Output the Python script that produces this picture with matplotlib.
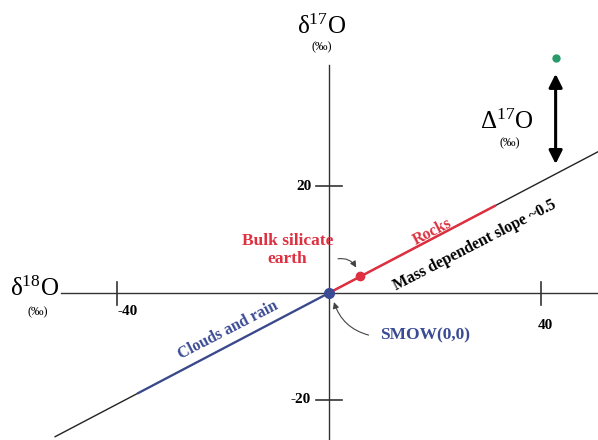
import numpy as np
import matplotlib.pyplot as plt

plt.rcParams['font.family'] = ['Liberation Serif', 'DejaVu Serif']

# mass dependent fractionation line and the reservoirs on it
slope = 0.52
line_x = [-51.7, 51.0]
clouds_x = [-36.0, 0.0]
rocks_x = [0.0, 31.3]
bse = (5.8, 3.1)
smow = (0.0, 0.0)
anomaly = (42.8, 43.9)
anomaly_arrow_y = [41.5, 23.6]

x_ticks = [-40, 40]
y_ticks = [20, -20]
x_tick_labels = ['-40', '40']
y_tick_labels = ['20', '-20']

red = '#de3040'
blue = '#3a4b94'
green = '#2a9a6a'

fig = plt.figure(figsize=(5.98, 4.40), dpi=100)
ax = fig.add_axes([0, 0, 1, 1])
ax.set_xlim(-62.1, 50.8)
ax.set_ylim(-27.5, 54.8)
ax.axis('off')

# hand-drawn style axes through the origin
ax.plot([-50.5, 50.8], [0, 0], color='#333333', lw=1.0)
ax.plot([0, 0], [-27.5, 42.6], color='#333333', lw=1.0)
for xt in x_ticks:
    ax.plot([xt, xt], [-2.2, 2.0], color='#333333', lw=1.2)
ax.text(-38.0, -3.4, x_tick_labels[0], ha='center', va='center',
        fontsize=11, fontweight='bold')
ax.text(40.8, -6.0, x_tick_labels[1], ha='center', va='center',
        fontsize=11, fontweight='bold')
for yt in y_ticks:
    ax.plot([-2.4, 2.4], [yt, yt], color='#333333', lw=1.2)
ax.text(-4.8, y_ticks[0], y_tick_labels[0], ha='center', va='center',
        fontsize=11, fontweight='bold')
ax.text(-5.4, y_ticks[1], y_tick_labels[1], ha='center', va='center',
        fontsize=11, fontweight='bold')

# axis names
ax.text(-55.5, 0.8, r'$\mathregular{\delta^{18}O}$', ha='center',
        va='center', fontsize=18)
ax.text(-55.0, -3.6, '(‰)', ha='center', va='center', fontsize=9)
ax.text(-1.4, 49.8, r'$\mathregular{\delta^{17}O}$', ha='center',
        va='center', fontsize=18)
ax.text(-1.3, 45.9, '(‰)', ha='center', va='center', fontsize=9)

# slope line with coloured segments
lx = np.array(line_x)
ax.plot(lx, slope * lx, color='#222222', lw=1.0)
cx = np.array(clouds_x)
ax.plot(cx, slope * cx, color=blue, lw=1.7, alpha=0.9)
rx = np.array(rocks_x)
ax.plot(rx, slope * rx, color=red, lw=1.8)

ax.plot(*bse, 'o', color=red, ms=6)
ax.plot(*smow, 'o', color=blue, ms=7)
ax.plot(*anomaly, 'o', color=green, ms=5)

ax.annotate('', xy=(anomaly[0], anomaly_arrow_y[0]),
            xytext=(anomaly[0], anomaly_arrow_y[1]),
            arrowprops=dict(arrowstyle='<|-|>', color='black', lw=2.2,
                            mutation_scale=20))
ax.text(33.6, 32.0, r'$\mathregular{\Delta^{17}O}$', ha='center',
        va='center', fontsize=18)
ax.text(34.2, 28.0, '(‰)', ha='center', va='center', fontsize=9)

# labels along the line
ax.text(-19.1, -6.9, 'Clouds and rain', color=blue, rotation=27.3,
        ha='center', va='center', fontsize=11.5, fontweight='bold')
ax.text(19.5, 11.4, 'Rocks', color=red, rotation=27.3,
        ha='center', va='center', fontsize=11.5, fontweight='bold')
ax.text(27.6, 8.9, 'Mass dependent slope ~0.5', color='black',
        rotation=27.3, ha='center', va='center', fontsize=11.5,
        fontweight='bold')

ax.text(-7.8, 8.1, 'Bulk silicate\nearth', color=red, ha='center',
        va='center', fontsize=12.5, fontweight='bold', linespacing=1.15)
ax.annotate('', xy=(bse[0] - 0.4, bse[1] + 1.2), xytext=(1.2, 6.3),
            arrowprops=dict(arrowstyle='-|>', color='#444444', lw=0.8,
                            connectionstyle='arc3,rad=-0.4',
                            mutation_scale=9))
ax.text(18.1, -8.0, 'SMOW(0,0)', color=blue, ha='center', va='center',
        fontsize=12.5, fontweight='bold')
ax.annotate('', xy=(0.8, -1.2), xytext=(8.0, -8.0),
            arrowprops=dict(arrowstyle='-|>', color='#444444', lw=0.8,
                            connectionstyle='arc3,rad=-0.3',
                            mutation_scale=9))

fig.savefig('out.png', dpi=100, facecolor='white')
